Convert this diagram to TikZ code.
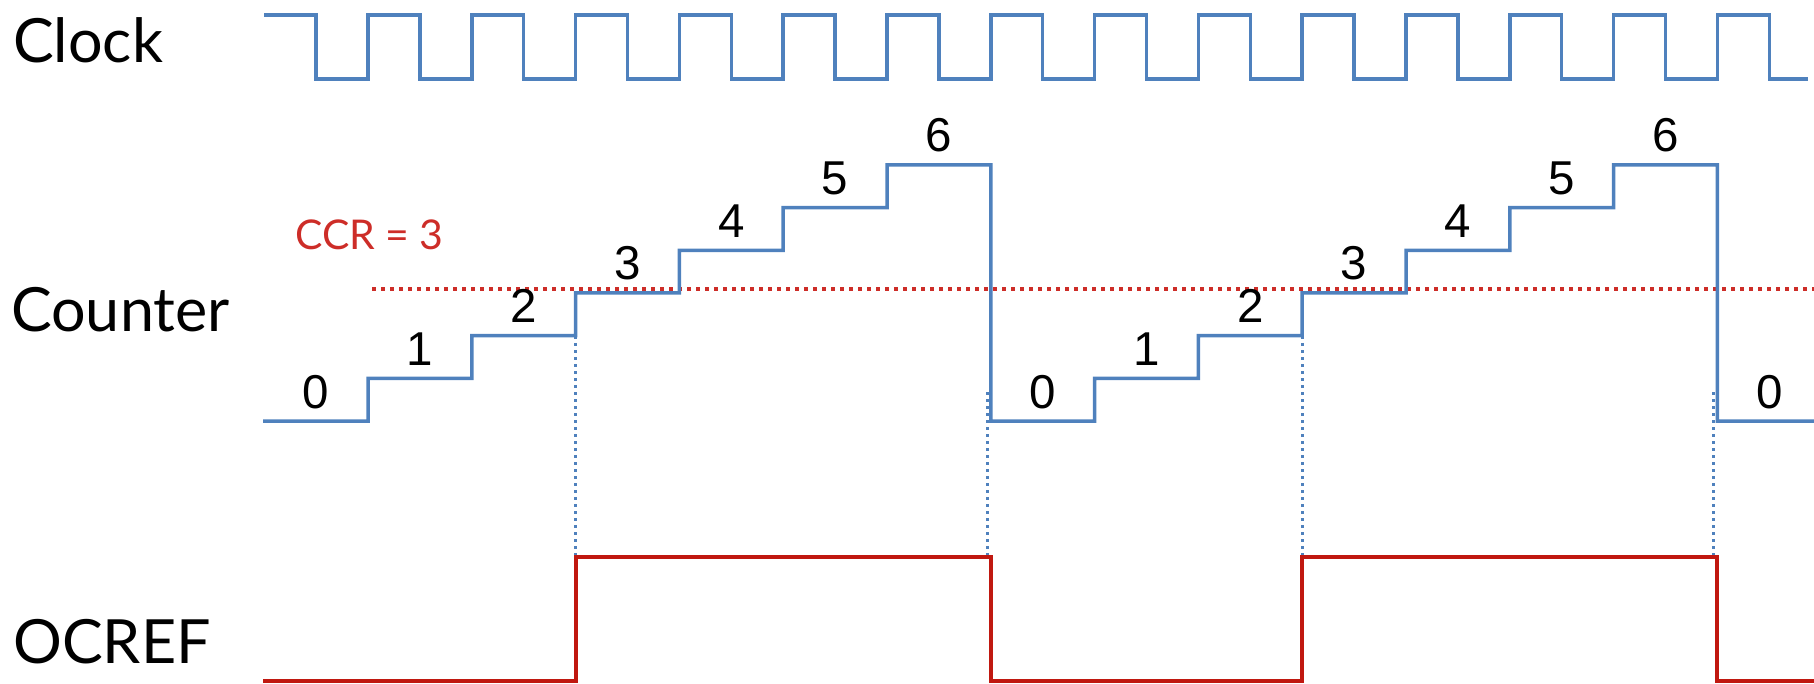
\documentclass[tikz,border=0pt]{standalone}
\usepackage{fontspec}
\setmainfont{Lato}
\newfontfamily\digitfont{Liberation Sans}
\definecolor{sigblue}{RGB}{79,129,189}
\definecolor{sigred}{RGB}{192,24,16}
\definecolor{ccrred}{RGB}{205,45,40}
\begin{document}
\begin{tikzpicture}[x=1pt,y=-1pt,
  wave/.style={sigblue, line width=3.5pt, line join=miter},
  ocwave/.style={sigred, line width=4pt, line join=miter},
  ccrline/.style={ccrred, line width=3.5pt, dash pattern=on 3.5pt off 5.5pt},
  guide/.style={sigblue, line width=3pt, dash pattern=on 3pt off 4pt},
  siglabel/.style={anchor=base west, inner sep=0pt, text=black, font=\fontsize{61}{70}\selectfont},
  ccrlabel/.style={anchor=base west, inner sep=0pt, text=ccrred, font=\fontsize{41}{48}\selectfont},
  countlabel/.style={anchor=base, inner sep=0pt, text=black, font=\digitfont\fontsize{47.5}{55}\selectfont},
]
\useasboundingbox (0,0) rectangle (1814,684);
% edge positions
\foreach \k in {0,...,13}{
  \coordinate (e\k) at ({368+103.8*\k},0);
}
% signal names
\node[siglabel] (clk) at (13,63) {Clock};
\node[siglabel] (cnt) at (11,332) {Counter};
\node[siglabel] (ocr) at (13,663) {OCREF};
\node[ccrlabel] (ccr) at (295,250) {CCR = 3};
% guides
\coordinate (ga) at ({368+103.8*2},336);
\coordinate (gb) at ({368+103.8*2},557);
\coordinate (gc) at ({368+103.8*6-3},392);
\coordinate (gd) at ({368+103.8*6-3},557);
\coordinate (ge) at ({368+103.8*9},336);
\coordinate (gf) at ({368+103.8*9},557);
\coordinate (gg) at ({368+103.8*13-4},392);
\coordinate (gh) at ({368+103.8*13-4},557);
\draw[guide] (ga) -- (gb);
\draw[guide] (gc) -- (gd);
\draw[guide] (ge) -- (gf);
\draw[guide] (gg) -- (gh);
% CCR line
\coordinate (ccrs) at (372,289);
\coordinate (ccre) at (1814,289);
\draw[ccrline] (ccrs) -- (ccre);
% clock
\draw[wave] (264,15)
  \foreach \k in {0,...,13}{
    -- ({368+103.8*\k-51.9},15) -- ({368+103.8*\k-51.9},79)
    -- ({368+103.8*\k},79) -- ({368+103.8*\k},15)
  }
  -- ({368+103.8*13+51.9},15) -- ({368+103.8*13+51.9},79) -- (1808,79);
% counter
\draw[wave] (263,421)
  \foreach \k in {0,...,5}{
    -- ({368+103.8*\k},{421-42.67*\k}) -- ({368+103.8*\k},{421-42.67*(\k+1)})
  }
  -- ({368+103.8*6},165) -- ({368+103.8*6},421)
  \foreach \k in {7,...,12}{
    -- ({368+103.8*\k},{421-42.67*(\k-7)}) -- ({368+103.8*\k},{421-42.67*(\k-6)})
  }
  -- ({368+103.8*13},165) -- ({368+103.8*13},421) -- (1814,421);
% counter values
\foreach \n in {0,...,6}{
  \node[countlabel] (ca\n) at ({368+103.8*\n-51.9},{421-42.67*\n-13}) {\n};
  \node[countlabel] (cb\n) at ({368+103.8*(\n+6)+51.9},{421-42.67*\n-13}) {\n};
}
\node[countlabel] (cc0) at ({368+103.8*13+51.9},408) {0};
% OCREF
\draw[ocwave] (263,681) -- ({368+103.8*2},681) -- ({368+103.8*2},557)
  -- ({368+103.8*6},557) -- ({368+103.8*6},681)
  -- ({368+103.8*9},681) -- ({368+103.8*9},557)
  -- ({368+103.8*13},557) -- ({368+103.8*13},681) -- (1814,681);
\end{tikzpicture}
\end{document}
